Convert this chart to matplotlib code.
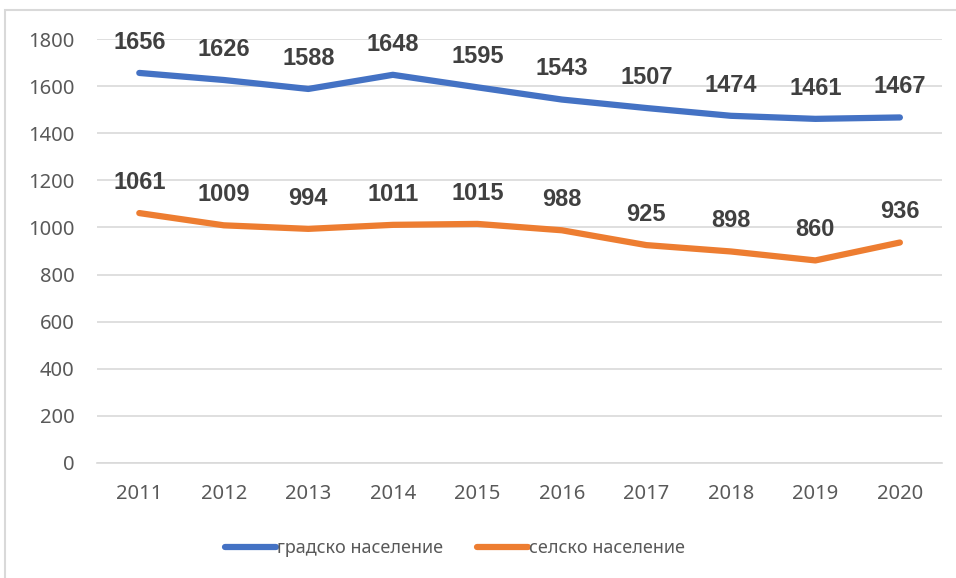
import matplotlib.pyplot as plt
from matplotlib.patches import Rectangle

years = ['2011', '2012', '2013', '2014', '2015', '2016', '2017', '2018', '2019', '2020']
urban = [1656, 1626, 1588, 1648, 1595, 1543, 1507, 1474, 1461, 1467]
rural = [1061, 1009, 994, 1011, 1015, 988, 925, 898, 860, 936]
series_names = ['градско население', 'селско население']

blue = '#4472C4'
orange = '#ED7D31'

plt.rcParams['font.family'] = ['Noto Sans', 'DejaVu Sans']

fig = plt.figure(figsize=(9.56, 5.78), dpi=100)
ax = fig.add_axes([0.1015, 0.199, 0.884, 0.7335])

x = range(len(years))
ax.plot(x, urban, color=blue, lw=4.5, solid_capstyle='round', label=series_names[0])
ax.plot(x, rural, color=orange, lw=4.5, solid_capstyle='round', label=series_names[1])

for i in x:
    for vals in (urban, rural):
        ax.annotate(str(vals[i]), (i, vals[i]), xytext=(0, 22), textcoords='offset points',
                    ha='center', va='center', fontsize=17, fontweight='bold',
                    color='#404040', family='Liberation Sans')

ax.set_xlim(-0.5, len(years) - 0.5)
ax.set_ylim(0, 1800)
ax.set_yticks(range(0, 1801, 200))
ax.set_xticks(list(x))
ax.set_xticklabels(years)
ax.grid(axis='y', color='#D9D9D9', lw=1.2)
ax.set_axisbelow(True)
for s in ['top', 'right', 'left']:
    ax.spines[s].set_visible(False)
ax.spines['bottom'].set_color('#D9D9D9')
ax.spines['bottom'].set_linewidth(1.2)
ax.tick_params(length=0, labelsize=14.5, colors='#595959')
ax.tick_params(axis='x', pad=15)
ax.tick_params(axis='y', pad=16)

leg = fig.legend(loc='center', bbox_to_anchor=(0.476, 0.052), ncol=2, frameon=False,
                 fontsize=13, handlelength=2.8, columnspacing=1.9, handletextpad=0.05)
for t in leg.get_texts():
    t.set_color('#595959')

# chart border
fig.patches.append(Rectangle((5 / 956, -0.05), 1.0, 1 - 10 / 578 + 0.05, transform=fig.transFigure,
                             fill=False, edgecolor='#D9D9D9', lw=1.5))

fig.savefig('out.png', dpi=100)
